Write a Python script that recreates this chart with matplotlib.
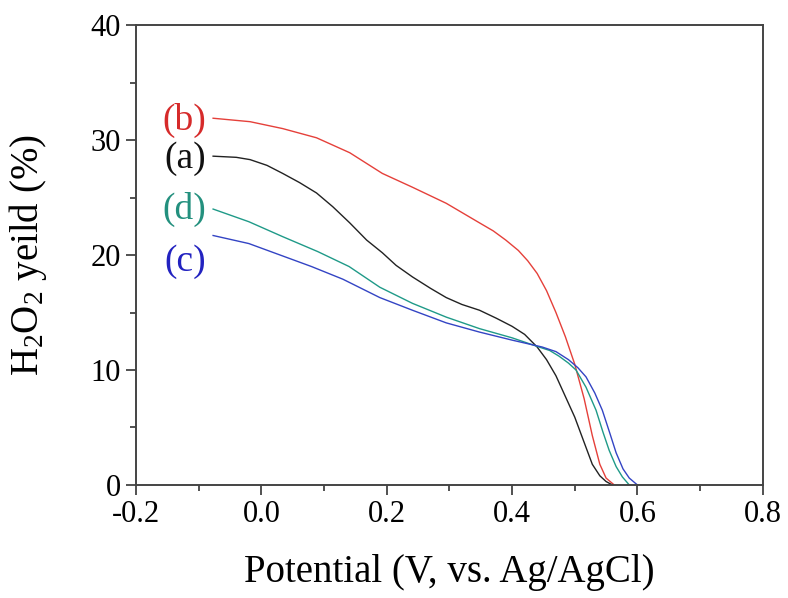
import matplotlib.pyplot as plt
from matplotlib.ticker import MultipleLocator

plt.rcParams['font.family'] = ['Liberation Serif', 'DejaVu Serif']
plt.rcParams['mathtext.fontset'] = 'custom'
plt.rcParams['mathtext.rm'] = 'Liberation Serif'
plt.rcParams['mathtext.it'] = 'Liberation Serif:italic'

# curves: potential (V) and H2O2 yield (%)
pot_a = [-0.077, -0.04, -0.018, 0.009, 0.034, 0.061, 0.088, 0.114, 0.141, 0.168,
         0.193, 0.215, 0.241, 0.27, 0.295, 0.32, 0.348, 0.375, 0.40, 0.42,
         0.44, 0.455, 0.47, 0.485, 0.50, 0.515, 0.528, 0.54, 0.55, 0.56]
yld_a = [28.6, 28.5, 28.3, 27.8, 27.1, 26.3, 25.4, 24.2, 22.8, 21.3,
         20.2, 19.1, 18.1, 17.1, 16.3, 15.7, 15.2, 14.5, 13.8, 13.1,
         12.0, 10.9, 9.5, 7.7, 5.9, 3.7, 1.8, 0.8, 0.3, 0.0]

pot_b = [-0.077, -0.018, 0.034, 0.088, 0.141, 0.193, 0.241, 0.295, 0.348, 0.37,
         0.39, 0.41, 0.425, 0.44, 0.455, 0.47, 0.485, 0.50, 0.515, 0.528,
         0.54, 0.55, 0.563]
yld_b = [31.9, 31.6, 31.0, 30.2, 28.9, 27.1, 25.9, 24.5, 22.8, 22.1,
         21.3, 20.4, 19.5, 18.4, 16.9, 15.0, 12.9, 10.5, 7.5, 4.3,
         1.8, 0.6, 0.0]

pot_c = [-0.077, -0.02, 0.03, 0.08, 0.13, 0.189, 0.241, 0.295, 0.348, 0.40,
         0.448, 0.47, 0.49, 0.505, 0.518, 0.532, 0.544, 0.556, 0.566, 0.577,
         0.587, 0.60]
yld_c = [21.7, 21.0, 20.0, 19.0, 17.9, 16.3, 15.2, 14.1, 13.3, 12.6,
         12.0, 11.6, 10.9, 10.2, 9.4, 8.0, 6.5, 4.5, 2.8, 1.4,
         0.6, 0.0]

pot_d = [-0.077, -0.02, 0.034, 0.09, 0.14, 0.189, 0.241, 0.295, 0.348, 0.40,
         0.443, 0.46, 0.475, 0.49, 0.502, 0.518, 0.534, 0.545, 0.555, 0.566,
         0.576, 0.587]
yld_d = [24.0, 22.9, 21.6, 20.3, 19.0, 17.2, 15.8, 14.6, 13.6, 12.8,
         12.0, 11.7, 11.2, 10.6, 10.0, 8.5, 6.5, 4.6, 3.0, 1.6,
         0.7, 0.0]

labels = ['(b)', '(a)', '(d)', '(c)']
label_y = [31.7, 28.4, 24.0, 19.4]

col_a = '#222222'
col_b = '#e5403a'
col_c = '#3344c4'
col_d = '#1f9a88'
label_cols = ['#d62a2a', '#111111', '#23907e', '#2222c0']

fig = plt.figure(figsize=(7.88, 5.98), dpi=100)
ax = fig.add_axes([0.1726, 0.189, 0.7954, 0.769])

ax.plot(pot_b, yld_b, color=col_b, lw=1.0)
ax.plot(pot_a, yld_a, color=col_a, lw=1.0)
ax.plot(pot_d, yld_d, color=col_d, lw=1.0)
ax.plot(pot_c, yld_c, color=col_c, lw=1.0)

for lab, yy, cc in zip(labels, label_y, label_cols):
    ax.text(-0.088, yy, lab, color=cc, fontsize=27, ha='right', va='center')

ax.set_xlim(-0.2, 0.8)
ax.set_ylim(0, 40)
ax.xaxis.set_major_locator(MultipleLocator(0.2))
ax.xaxis.set_minor_locator(MultipleLocator(0.1))
ax.yaxis.set_major_locator(MultipleLocator(10))
ax.yaxis.set_minor_locator(MultipleLocator(5))
ax.set_xticks([-0.2, 0.0, 0.2, 0.4, 0.6, 0.8])
ax.set_xticklabels(['-0.2', '0.0', '0.2', '0.4', '0.6', '0.8'])

ax.tick_params(which='both', direction='out', top=False, right=False,
               labelsize=22, color='#333333', width=1.2)
ax.tick_params(which='major', length=7, pad=4)
ax.tick_params(which='minor', length=4)
for sp in ax.spines.values():
    sp.set_color('#444444')
    sp.set_linewidth(1.4)

ax.set_xlabel('Potential (V, vs. Ag/AgCl)', fontsize=28, labelpad=18)
ax.set_ylabel(r'H$_2$O$_2$ yeild (%)', fontsize=28, labelpad=30)

fig.savefig('out.png', dpi=100)
